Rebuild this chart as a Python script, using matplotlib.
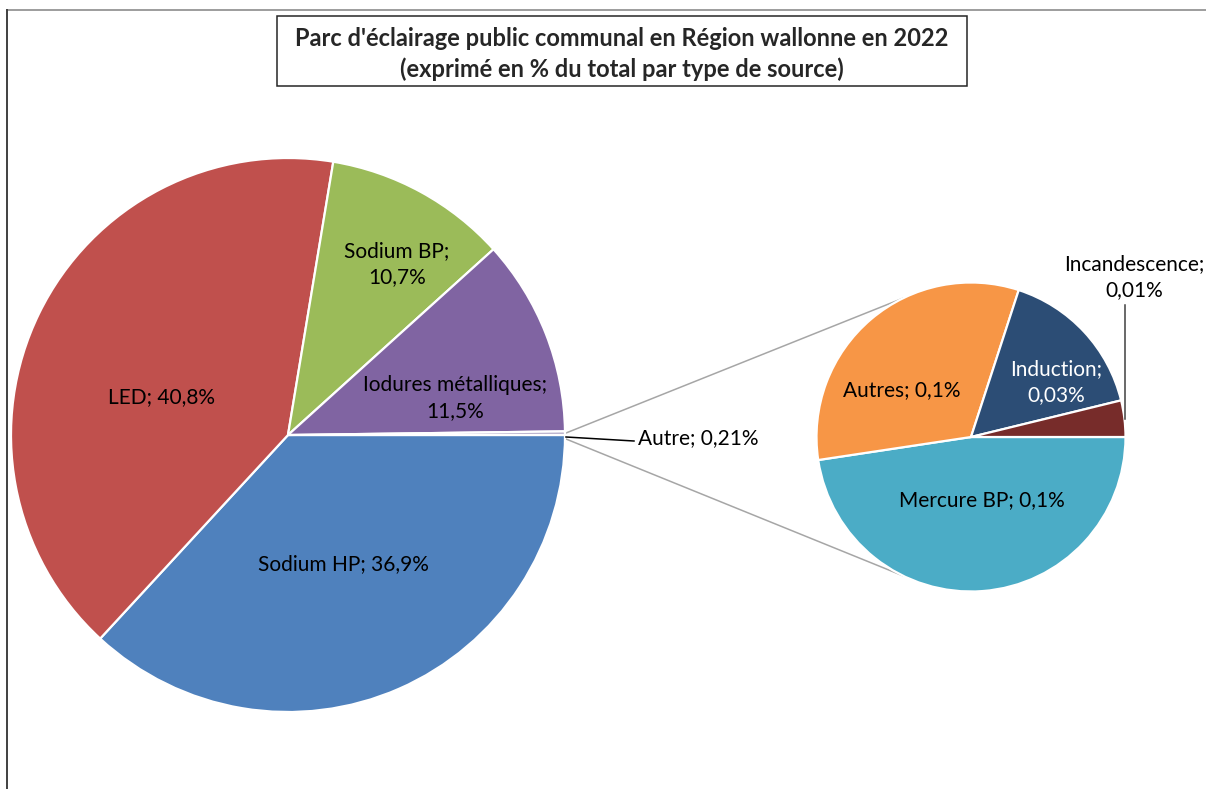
import numpy as np
import matplotlib
matplotlib.use("Agg")
import matplotlib.pyplot as plt
from matplotlib.patches import Rectangle

plt.rcParams['font.family'] = ['Lato', 'DejaVu Sans']

# Main pie: share of each light source type (% of total)
main_labels = ["Sodium HP", "LED", "Sodium BP", "Iodures métalliques", "Autre"]
main_values = [36.9, 40.8, 10.7, 11.5, 0.21]
main_decimals = [1, 1, 1, 1, 2]
main_colors = ["#4F81BD", "#C0504D", "#9BBB59", "#8064A2", "#B7AECB"]

# Secondary pie: breakdown of "Autre"
sub_labels = ["Mercure BP", "Autres", "Induction", "Incandescence"]
sub_values = [0.100, 0.068, 0.034, 0.008]
sub_decimals = [1, 1, 2, 2]
sub_colors = ["#4BACC6", "#F79646", "#2C4D75", "#772C2A"]

title = "Parc d'éclairage public communal en Région wallonne en 2022\n(exprimé en % du total par type de source)"

W, H = 1206, 789
fig = plt.figure(figsize=(W / 100, H / 100), dpi=100)
ax = fig.add_axes([0, 0, 1, 1])
ax.set_xlim(0, W)
ax.set_ylim(0, H)
ax.set_aspect('equal')
ax.axis('off')


def fmt(v, d):
    return f"{v:.{d}f}".replace('.', ',') + "%"


# pixel-space layout (y measured from the top)
main_c = (288, H - 435)
main_r = 277
sub_c = (971, H - 437)
sub_r = 154.5

wedges_main, _ = ax.pie(main_values, colors=main_colors, startangle=0, counterclock=False,
                        center=main_c, radius=main_r, frame=True,
                        wedgeprops=dict(edgecolor='white', linewidth=1.6))
wedges_sub, _ = ax.pie(sub_values, colors=sub_colors, startangle=0, counterclock=False,
                       center=sub_c, radius=sub_r, frame=True,
                       wedgeprops=dict(edgecolor='white', linewidth=1.6))
ax.set_xlim(0, W)
ax.set_ylim(0, H)
ax.axis('off')

# connector lines from the "Autre" slice to the secondary pie
tip_top = (main_c[0] + main_r + 1, main_c[1] + 2)
tip_bot = (main_c[0] + main_r + 1, main_c[1] - 4)
for ang, tip in ((116, tip_top), (-116, tip_bot)):
    a = np.deg2rad(ang)
    end = (sub_c[0] + sub_r * np.cos(a), sub_c[1] + sub_r * np.sin(a))
    ax.plot([tip[0], end[0]], [tip[1], end[1]], color='#A6A6A6', lw=1.1, zorder=0)

fs = 15
lab_pos_main = {
    "Sodium HP": (343, 564),
    "LED": (162, 397),
    "Sodium BP": (397, 264),
    "Iodures métalliques": (455, 398),
}
for lab, v, d in zip(main_labels, main_values, main_decimals):
    if lab in lab_pos_main:
        x, y = lab_pos_main[lab]
        sep = ";\n" if lab in ("Sodium BP", "Iodures métalliques") else "; "
        ax.text(x, H - y, f"{lab}{sep}{fmt(v, d)}", ha='center', va='center',
                fontsize=fs, color='black', linespacing=1.35)

# "Autre" label with its leader line
autre_i = main_labels.index("Autre")
ax.plot([main_c[0] + main_r + 1, 634], [H - 437, H - 441], color='black', lw=1.1)
ax.text(638, H - 438, f"Autre; {fmt(main_values[autre_i], main_decimals[autre_i])}",
        ha='left', va='center', fontsize=fs, color='black')

lab_pos_sub = {
    "Mercure BP": ((982, 500), "; ", 'black'),
    "Autres": ((902, 390), "; ", 'black'),
    "Induction": ((1056, 382), ";\n", 'white'),
    "Incandescence": ((1134, 277), ";\n", 'black'),
}
for lab, v, d in zip(sub_labels, sub_values, sub_decimals):
    (x, y), sep, col = lab_pos_sub[lab]
    ax.text(x, H - y, f"{lab}{sep}{fmt(v, d)}", ha='center', va='center',
            fontsize=fs, color=col, linespacing=1.35)

# leader for Incandescence
ax.plot([1125, 1125], [H - 305, H - 419], color='#404040', lw=1.1)

# title box
ax.add_patch(Rectangle((277, H - 86), 690, 70, facecolor='white', edgecolor='#262626', lw=1.1, zorder=5))
ax.text(622, H - 54, title, ha='center', va='center', fontsize=17, fontweight='bold',
        color='#262626', linespacing=1.4, zorder=6)

# chart area border (top and left edges visible)
ax.plot([7, W], [H - 10, H - 10], color='#8C8C8C', lw=1.2)
ax.plot([7, 7], [H - 10, 0], color='#404040', lw=1.4)

fig.savefig("out.png", dpi=100)
